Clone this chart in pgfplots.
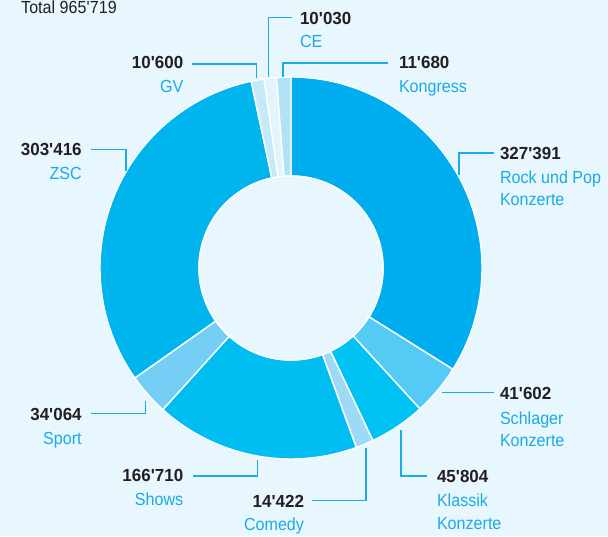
\documentclass[border=0pt]{standalone}
\usepackage{pgfplots}
\pgfplotsset{compat=1.18}
\usepackage{pgfplotstable}
\usepackage{fontspec}
\setmainfont{Liberation Sans}[FakeStretch=0.92]
\newfontfamily\numfont{Liberation Sans}[FakeStretch=0.97]

\definecolor{bg}{HTML}{E8F6FD}
\definecolor{seg0}{HTML}{00AEEF}
\definecolor{seg1}{HTML}{55CAF5}
\definecolor{seg2}{HTML}{00C3F3}
\definecolor{seg3}{HTML}{9DDAF6}
\definecolor{seg4}{HTML}{00BDF2}
\definecolor{seg5}{HTML}{74CEF5}
\definecolor{seg6}{HTML}{00B4EE}
\definecolor{seg7}{HTML}{C6EAFA}
\definecolor{seg8}{HTML}{E2F4FC}
\definecolor{seg9}{HTML}{B3E2F8}
\definecolor{leadc}{HTML}{1BABE6}
\definecolor{namec}{HTML}{1AABE6}
\definecolor{numc}{HTML}{231F20}

\pgfplotstableread{
name value
Rock 327391
Schlager 41602
Klassik 45804
Comedy 14422
Shows 166710
Sport 34064
ZSC 303416
GV 10600
CE 10030
Kongress 11680
}\datatable

\def\total{0}
\pgfplotsforeachungrouped \i in {0,...,9}{%
  \pgfplotstablegetelem{\i}{value}\of\datatable
  \xdef\total{\fpeval{\total+\pgfplotsretval}}%
}
\def\cum{0}
\pgfplotsforeachungrouped \i in {0,...,9}{%
  \pgfplotstablegetelem{\i}{value}\of\datatable
  \expandafter\xdef\csname sa\i\endcsname{\fpeval{round(90-360*\cum/\total,4)}}%
  \xdef\cum{\fpeval{\cum+\pgfplotsretval}}%
  \expandafter\xdef\csname ea\i\endcsname{\fpeval{round(90-360*\cum/\total,4)}}%
}

\newcommand\ap{\textquotesingle}
\tikzset{
  num/.style={inner sep=0pt, outer sep=0pt, text=numc, font=\numfont\bfseries\fontsize{17.5}{21}\selectfont},
  nam/.style={inner sep=0pt, outer sep=0pt, text=namec, font=\fontsize{17.5}{21}\selectfont},
  lead/.style={draw=leadc, line width=1.5pt}
}

\begin{document}
\begin{tikzpicture}
\begin{axis}[
  x=1pt, y=1pt,
  xmin=0, xmax=608, ymin=0, ymax=536,
  scale only axis, hide axis, clip=false
]
\fill[bg] (axis cs:0,0) rectangle (axis cs:608,536);

\pgfplotsinvokeforeach{0,...,9}{%
  \fill[seg#1, draw=white, line width=1.4pt, shift={(axis cs:291,268)}]
    (\csname sa#1\endcsname:191pt)
    arc[start angle=\csname sa#1\endcsname, end angle=\csname ea#1\endcsname, radius=191pt]
    -- (\csname ea#1\endcsname:92pt)
    arc[start angle=\csname ea#1\endcsname, end angle=\csname sa#1\endcsname, radius=92pt]
    -- cycle;
}
\draw[white, line width=1.4pt] (axis cs:291,268) circle[radius=92pt];

% leader lines
\draw[lead] (axis cs:459,361) -- (axis cs:459,383) -- (axis cs:494,383);
\draw[lead] (axis cs:442,143.3) -- (axis cs:494,143.3);
\draw[lead] (axis cs:401,106) -- (axis cs:401,60) -- (axis cs:427,60);
\draw[lead] (axis cs:366,88.3) -- (axis cs:366,35.3) -- (axis cs:311.7,35.3);
\draw[lead] (axis cs:257.3,76) -- (axis cs:257.3,60) -- (axis cs:192.7,60);
\draw[lead] (axis cs:145.7,135.3) -- (axis cs:145.7,122.7) -- (axis cs:90.7,122.7);
\draw[lead] (axis cs:126,365.3) -- (axis cs:126,386.7) -- (axis cs:90.7,386.7);
\draw[lead] (axis cs:256.7,458) -- (axis cs:256.7,472) -- (axis cs:191.7,472);
\draw[lead] (axis cs:268.7,459) -- (axis cs:268.7,518.7) -- (axis cs:291.7,518.7);
\draw[lead] (axis cs:283,459) -- (axis cs:283,473) -- (axis cs:388,473);

% labels
\node[anchor=base west, inner sep=0pt, text=numc, font=\fontsize{17.5}{21}\selectfont] at (axis cs:21,522) {Total 965\ap719};

\node[num, anchor=base west] at (axis cs:300,511) {10\ap030};
\node[nam, anchor=base west] at (axis cs:300,488) {CE};

\node[num, anchor=base west] at (axis cs:399,467) {11\ap680};
\node[nam, anchor=base west] at (axis cs:399,443) {Kongress};

\node[num, anchor=base east] at (axis cs:183.3,467.7) {10\ap600};
\node[nam, anchor=base east] at (axis cs:183.3,443.3) {GV};

\node[num, anchor=base east] at (axis cs:81.7,380) {303\ap416};
\node[nam, anchor=base east] at (axis cs:81.7,356) {ZSC};

\node[num, anchor=base west] at (axis cs:500,376.7) {327\ap391};
\node[nam, anchor=base west] at (axis cs:500,352.7) {Rock und Pop};
\node[nam, anchor=base west] at (axis cs:500,330.3) {Konzerte};

\node[num, anchor=base west] at (axis cs:500,136) {41\ap602};
\node[nam, anchor=base west] at (axis cs:500,112) {Schlager};
\node[nam, anchor=base west] at (axis cs:500,89) {Konzerte};

\node[num, anchor=base west] at (axis cs:437,53.3) {45\ap804};
\node[nam, anchor=base west] at (axis cs:437,30) {Klassik};
\node[nam, anchor=base west] at (axis cs:437,7) {Konzerte};

\node[num, anchor=base east] at (axis cs:81.7,116) {34\ap064};
\node[nam, anchor=base east] at (axis cs:81.7,92) {Sport};

\node[num, anchor=base east] at (axis cs:183.3,55) {166\ap710};
\node[nam, anchor=base east] at (axis cs:183.3,31) {Shows};

\node[num, anchor=base east] at (axis cs:304,28.3) {14\ap422};
\node[nam, anchor=base east] at (axis cs:304,5.3) {Comedy};
\end{axis}
\pgfresetboundingbox
\useasboundingbox (current axis.south west) rectangle (current axis.north east);
\end{tikzpicture}
\end{document}
